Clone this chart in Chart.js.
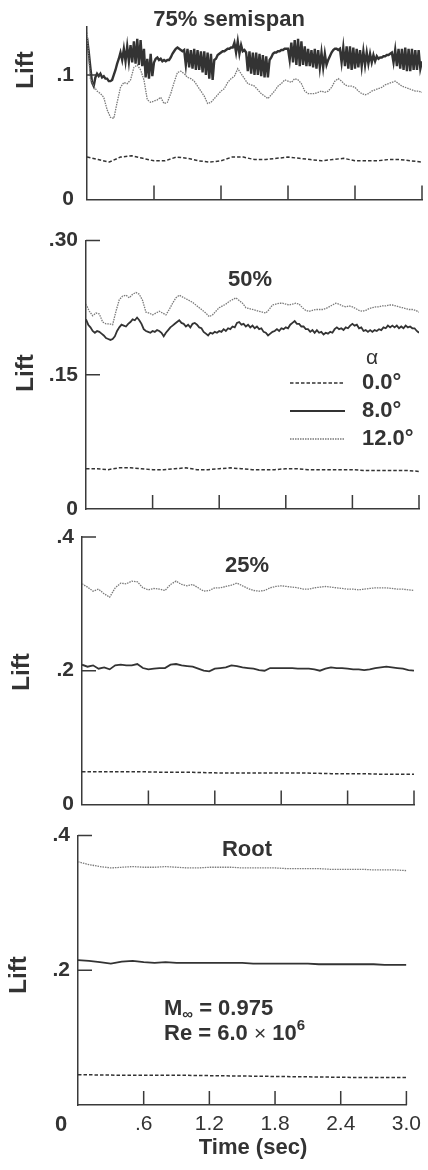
<!DOCTYPE html>
<html>
<head>
<meta charset="utf-8">
<script src="https://cdn.jsdelivr.net/npm/chart.js@4.4.1/dist/chart.umd.min.js"></script>
<style>
    body { margin: 0; background: #fff; }
    #wrap { position: relative; width: 428px; height: 1170px; overflow: hidden; }
    canvas { position: absolute; left: 0; }
</style>
</head>
<body>
<div id="wrap">
    <canvas id="p75"></canvas>
    <canvas id="p50"></canvas>
    <canvas id="p25"></canvas>
    <canvas id="pRoot"></canvas>
</div>
<script>
// Time axis (sec)
const timeTicks = [0, 0.6, 1.2, 1.8, 2.4, 3.0];
const timeTickLabels = ['0', '.6', '1.2', '1.8', '2.4', '3.0'];

// 75% semispan
const lift75Ticks = [0, 0.1];
const lift75Labels = ['0', '.1'];
const step75a0 = 0.1;
const lift75a0 = [
    .034, .032, .030, .034, .035, .033, .031, .031, .034, .033,
    .031, .030, .031, .034, .034, .032, .032, .033, .034, .033,
    .032, .031, .032, .033, .031, .031, .031, .032, .032, .031,
    .030
];
const step75a8 = 0.015;
const lift75a8 = [
    .130, .119, .106, .094, .091, .098, .101, .099, .101, .098, .099, .097, .097, .095, .095, .096, .100, .104, .109, .113,
    .118, .112, .121, .111, .123, .111, .124, .110, .127, .109, .129, .108, .128, .107, .121, .098, .113, .097, .117, .099,
    .110, .113, .114, .112, .113, .111, .112, .111, .112, .112, .114, .117, .119, .121, .122, .121, .120, .119, .120, .108,
    .121, .106, .120, .105, .121, .104, .120, .104, .119, .102, .119, .100, .118, .097, .117, .096, .112, .113, .116, .117,
    .118, .119, .119, .120, .121, .121, .122, .122, .126, .118, .127, .117, .124, .119, .120, .118, .103, .119, .101, .118,
    .100, .118, .100, .117, .099, .116, .098, .115, .098, .112, .114, .117, .118, .118, .119, .119, .120, .120, .121, .121,
    .121, .112, .126, .110, .128, .108, .129, .107, .127, .108, .123, .107, .121, .107, .120, .106, .121, .105, .120, .106,
    .118, .106, .117, .108, .112, .115, .118, .120, .121, .121, .120, .121, .110, .122, .107, .123, .105, .123, .104, .122,
    .105, .121, .106, .120, .107, .119, .108, .118, .109, .117, .110, .116, .111, .115, .113, .114, .114, .115, .115, .116,
    .116, .117, .118, .110, .120, .107, .121, .105, .121, .104, .122, .103, .121, .103, .121, .104, .120, .104, .120, .105,
    .111
];
const step75a12 = 0.03;
const lift75a12 = [
    .134, .097, .091, .087, .085, .082, .072, .066, .065, .078,
    .090, .094, .093, .096, .106, .108, .104, .096, .080, .078,
    .079, .080, .082, .077, .078, .085, .094, .102, .103, .101,
    .098, .097, .095, .091, .087, .083, .077, .078, .081, .084,
    .087, .089, .094, .097, .099, .105, .101, .097, .093, .092,
    .091, .088, .085, .083, .081, .084, .087, .091, .093, .096,
    .095, .094, .097, .096, .093, .087, .085, .085, .085, .086,
    .087, .086, .087, .090, .095, .097, .095, .092, .091, .091,
    .090, .087, .085, .084, .085, .087, .088, .089, .090, .092,
    .093, .094, .095, .093, .091, .090, .089, .088, .087, .087,
    .086
];

// 50% semispan
const lift50Ticks = [0, 0.15, 0.30];
const lift50Labels = ['0', '.15', '.30'];
const step50a0 = 0.1;
const lift50a0 = [
    .045, .045, .044, .046, .046, .045, .044, .044, .045, .046,
    .044, .044, .045, .046, .045, .044, .044, .044, .045, .045,
    .044, .044, .044, .044, .044, .043, .043, .043, .043, .043,
    .042
];
const step50a8 = 0.02;
const lift50a8 = [
    .212, .206, .203, .199, .197, .199, .198, .196, .194, .191,
    .190, .189, .190, .193, .199, .203, .206, .205, .204, .207,
    .209, .212, .211, .214, .211, .207, .201, .199, .198, .197,
    .199, .198, .200, .199, .197, .193, .197, .200, .203, .205,
    .207, .209, .211, .208, .207, .204, .206, .203, .207, .208,
    .206, .203, .202, .198, .196, .194, .197, .196, .198, .197,
    .199, .198, .201, .199, .202, .201, .204, .203, .208, .209,
    .206, .207, .204, .206, .203, .205, .202, .204, .201, .202,
    .198, .197, .194, .196, .198, .199, .201, .199, .202, .201,
    .203, .202, .206, .208, .210, .207, .207, .204, .204, .201,
    .201, .198, .200, .197, .200, .197, .198, .195, .197, .196,
    .198, .197, .201, .203, .201, .202, .200, .203, .202, .205,
    .207, .205, .206, .202, .203, .199, .200, .198, .200, .198,
    .200, .199, .201, .200, .203, .202, .205, .203, .205, .203,
    .205, .202, .204, .202, .205, .203, .204, .202, .202, .199,
    .197
];
const step50a12 = 0.03;
const lift50a12 = [
    .229, .221, .216, .219, .218, .209, .207, .207, .206, .221,
    .234, .238, .239, .236, .240, .242, .240, .233, .220, .219,
    .217, .219, .221, .219, .217, .223, .230, .236, .239, .237,
    .235, .233, .231, .228, .225, .222, .219, .215, .217, .221,
    .225, .227, .229, .232, .234, .236, .233, .230, .225, .224,
    .223, .222, .221, .220, .219, .223, .228, .229, .230, .230,
    .229, .228, .229, .230, .229, .225, .222, .221, .222, .223,
    .223, .223, .224, .226, .228, .230, .229, .227, .226, .227,
    .226, .224, .222, .221, .222, .224, .225, .226, .226, .227,
    .227, .228, .228, .227, .226, .225, .224, .223, .223, .222,
    .220
];

// 25% semispan
const lift25Ticks = [0, 0.2, 0.4];
const lift25Labels = ['0', '.2', '.4'];
const step25a0 = 0.25;
const lift25a0 = [.049, .049, .049, .048, .048, .047, .047, .047, .047, .046, .046, .045, .045];
const step25a8 = 0.05;
const lift25a8 = [
    .209, .206, .208, .203, .205, .202, .208, .209, .208, .208,
    .210, .204, .202, .203, .204, .204, .209, .210, .208, .207,
    .206, .203, .200, .199, .203, .204, .205, .208, .207, .205,
    .204, .203, .201, .200, .204, .204, .204, .204, .204, .203,
    .203, .203, .202, .200, .203, .205, .204, .204, .203, .202,
    .202, .201, .202, .204, .205, .206, .205, .204, .203, .201,
    .200
];
const step25a12 = 0.05;
const lift25a12 = [
    .330, .325, .319, .322, .315, .310, .324, .331, .330, .334,
    .333, .324, .321, .323, .322, .320, .329, .334, .329, .327,
    .329, .324, .319, .320, .324, .324, .326, .328, .331, .327,
    .323, .320, .319, .320, .324, .326, .327, .326, .325, .324,
    .322, .322, .324, .325, .326, .325, .324, .323, .322, .322,
    .321, .322, .323, .324, .324, .324, .323, .322, .322, .321,
    .320
];

// Root
const liftRootTicks = [0, 0.2, 0.4];
const liftRootLabels = ['', '.2', '.4'];
const stepRoota0 = 0.5;
const liftRoota0 = [.045, .044, .044, .043, .042, .041, .041];
const stepRoota8 = 0.1;
const liftRoota8 = [
    .215, .214, .212, .210, .213, .214, .212, .211, .212, .211,
    .211, .211, .211, .211, .211, .211, .210, .210, .210, .210,
    .210, .210, .209, .209, .209, .209, .209, .209, .208, .208,
    .208
];
const stepRoota12 = 0.1;
const liftRoota12 = [
    .361, .357, .354, .352, .353, .354, .353, .353, .354, .353,
    .352, .352, .353, .353, .353, .352, .352, .352, .352, .351,
    .351, .351, .351, .350, .350, .350, .350, .349, .349, .349,
    .348
];

const inkColor = '#333';
const axisColor = '#3a3a3a';
const fontFamily = '"Liberation Sans", Arial, Helvetica, sans-serif';
const boldFont = 'bold 22px ' + fontFamily;
const smallBold = 'bold 15px ' + fontFamily;

const lineStyles = {
    deg0: { borderColor: '#333', borderWidth: 1.5, borderDash: [3.5, 2] },
    deg8: { borderColor: '#333', borderWidth: 1.8, borderDash: [] },
    deg12: { borderColor: '#7a7a7a', borderWidth: 1.3, borderDash: [1.5, 1] }
};

function toPoints(step, values) {
    return values.map((v, i) => ({ x: Math.round(i * step * 1000) / 1000, y: v }));
}

function drawText(ctx, item, top) {
    ctx.save();
    ctx.translate(item.x, item.y - top);
    if (item.rotate) ctx.rotate(item.rotate);
    ctx.textBaseline = 'middle';
    ctx.textAlign = 'left';
    ctx.fillStyle = inkColor;
    const parts = item.parts || [{ text: item.text, font: item.font }];
    const widths = parts.map(p => { ctx.font = p.font || boldFont; return ctx.measureText(p.text).width; });
    let x = item.align === 'left' ? 0 : -widths.reduce((a, b) => a + b, 0) / 2;
    parts.forEach((p, i) => {
        ctx.font = p.font || boldFont;
        ctx.fillText(p.text, x, p.dy || 0);
        x += widths[i];
    });
    ctx.restore();
}

// inward tick marks, placed through the chart's own scales
function inwardTicks(yMarks) {
    return {
        id: 'inwardTicks',
        afterDraw(chart) {
            const { ctx, chartArea, scales } = chart;
            ctx.save();
            ctx.strokeStyle = axisColor;
            ctx.lineWidth = 1.5;
            ctx.beginPath();
            timeTicks.filter(t => t > 0).forEach(t => {
                const px = scales.x.getPixelForValue(t);
                ctx.moveTo(px, chartArea.bottom);
                ctx.lineTo(px, chartArea.bottom - 14);
            });
            yMarks.forEach(v => {
                const py = scales.y.getPixelForValue(v);
                ctx.moveTo(chartArea.left, py);
                ctx.lineTo(chartArea.left + 14, py);
            });
            ctx.stroke();
            ctx.restore();
        }
    };
}

function panelText(items, top, legend) {
    return {
        id: 'panelText',
        afterDraw(chart) {
            const ctx = chart.ctx;
            items.forEach(item => drawText(ctx, item, top));
            if (!legend) return;
            drawText(ctx, { text: 'α', font: '21px ' + fontFamily, x: legend.x + 82, y: legend.y - 25 }, top);
            legend.entries.forEach((e, i) => {
                const y = legend.y + i * 28 - top;
                const st = lineStyles[e.style];
                ctx.save();
                ctx.strokeStyle = st.borderColor;
                ctx.lineWidth = st.borderWidth;
                ctx.setLineDash(st.borderDash);
                ctx.beginPath();
                ctx.moveTo(legend.x, y);
                ctx.lineTo(legend.x + 55, y);
                ctx.stroke();
                ctx.restore();
                drawText(ctx, { text: e.label, x: legend.x + 72, y: legend.y + i * 28, align: 'left' }, top);
            });
        }
    };
}

function makePanel(cfg) {
    const canvas = document.getElementById(cfg.id);
    canvas.width = 428;
    canvas.height = cfg.height;
    canvas.style.top = cfg.top + 'px';
    const area = cfg.area;
    new Chart(canvas.getContext('2d'), {
        type: 'line',
        data: {
            datasets: cfg.series.map(s => Object.assign({
                data: toPoints(s.step, s.values),
                pointRadius: 0,
                tension: 0,
                fill: false
            }, lineStyles[s.style], s.width ? { borderWidth: s.width } : {}))
        },
        options: {
            responsive: false,
            animation: false,
            events: [],
            layout: {
                padding: {
                    left: 0,
                    top: area.top - cfg.top,
                    right: 428 - area.right,
                    bottom: cfg.top + cfg.height - area.bottom - cfg.xHeight
                }
            },
            plugins: { legend: { display: false }, tooltip: { enabled: false } },
            scales: {
                x: {
                    type: 'linear',
                    min: 0,
                    max: 3.0,
                    grid: { display: false, drawTicks: false },
                    border: { color: axisColor, width: 1.5 },
                    ticks: {
                        display: cfg.xLabels,
                        padding: 7,
                        color: inkColor,
                        font: { family: fontFamily, size: 21, weight: 'normal' },
                        callback: (v, i) => i === 0 ? '' : timeTickLabels[i]
                    },
                    afterBuildTicks: s => { s.ticks = timeTicks.map(v => ({ value: v })); },
                    afterFit: s => { s.height = cfg.xHeight; }
                },
                y: {
                    min: 0,
                    max: cfg.yMax,
                    grid: { display: false, drawTicks: false },
                    border: { color: axisColor, width: 1.5 },
                    ticks: {
                        padding: cfg.yPad,
                        color: inkColor,
                        font: { family: fontFamily, size: 21, weight: 'bold' },
                        callback: (v, i) => cfg.yLabels[i]
                    },
                    afterBuildTicks: s => { s.ticks = cfg.yTicks.map(v => ({ value: v })); },
                    afterFit: s => { s.width = area.left; }
                }
            }
        },
        plugins: [inwardTicks(cfg.yTicks.filter(v => v > 0)), panelText(cfg.texts, cfg.top, cfg.legend)]
    });
}

const liftFont = 'bold 24px ' + fontFamily;
const upright = -Math.PI / 2;

makePanel({
    id: 'p75', top: 0, height: 225, xHeight: 0, xLabels: false,
    area: { left: 87, right: 422, top: 27, bottom: 207 },
    yMax: 0.1385, yTicks: lift75Ticks, yLabels: lift75Labels, yPad: 13,
    series: [
        { step: step75a0, values: lift75a0, style: 'deg0' },
        { step: step75a12, values: lift75a12, style: 'deg12' },
        { step: step75a8, values: lift75a8, style: 'deg8', width: 2.4 }
    ],
    texts: [
        { text: '75% semispan', x: 229, y: 20 },
        { text: 'Lift', font: liftFont, x: 26, y: 70, rotate: upright }
    ]
});

makePanel({
    id: 'p50', top: 220, height: 310, xHeight: 0, xLabels: false,
    area: { left: 86, right: 419, top: 239, bottom: 509 },
    yMax: 0.30, yTicks: lift50Ticks, yLabels: lift50Labels, yPad: 8,
    series: [
        { step: step50a0, values: lift50a0, style: 'deg0' },
        { step: step50a12, values: lift50a12, style: 'deg12' },
        { step: step50a8, values: lift50a8, style: 'deg8' }
    ],
    texts: [
        { text: '50%', x: 250, y: 280 },
        { text: 'Lift', font: liftFont, x: 26, y: 373, rotate: upright }
    ],
    legend: {
        x: 290, y: 383,
        entries: [
            { style: 'deg0', label: '0.0°' },
            { style: 'deg8', label: '8.0°' },
            { style: 'deg12', label: '12.0°' }
        ]
    }
});

makePanel({
    id: 'p25', top: 515, height: 310, xHeight: 0, xLabels: false,
    area: { left: 82, right: 414, top: 537, bottom: 807 },
    yMax: 0.4, yTicks: lift25Ticks, yLabels: lift25Labels, yPad: 8,
    series: [
        { step: step25a0, values: lift25a0, style: 'deg0' },
        { step: step25a12, values: lift25a12, style: 'deg12' },
        { step: step25a8, values: lift25a8, style: 'deg8' }
    ],
    texts: [
        { text: '25%', x: 247, y: 566 },
        { text: 'Lift', font: liftFont, x: 22, y: 672, rotate: upright }
    ]
});

makePanel({
    id: 'pRoot', top: 815, height: 355, xHeight: 65, xLabels: true,
    area: { left: 78, right: 411, top: 835, bottom: 1105 },
    yMax: 0.4, yTicks: liftRootTicks, yLabels: liftRootLabels, yPad: 8,
    series: [
        { step: stepRoota0, values: liftRoota0, style: 'deg0' },
        { step: stepRoota12, values: liftRoota12, style: 'deg12' },
        { step: stepRoota8, values: liftRoota8, style: 'deg8' }
    ],
    texts: [
        { text: 'Root', x: 247, y: 850 },
        { text: 'Lift', font: liftFont, x: 19, y: 975, rotate: upright },
        { text: timeTickLabels[0], x: 61, y: 1125 },
        { text: 'Time (sec)', x: 253, y: 1148 },
        { x: 164, y: 1009, align: 'left', parts: [
            { text: 'M' }, { text: '∞', font: smallBold, dy: 6 }, { text: ' = 0.975' }
        ] },
        { x: 164, y: 1034, align: 'left', parts: [
            { text: 'Re = 6.0 ' }, { text: '×', font: '21px ' + fontFamily }, { text: ' 10' },
            { text: '6', font: smallBold, dy: -8 }
        ] }
    ]
});
</script>
</body>
</html>
